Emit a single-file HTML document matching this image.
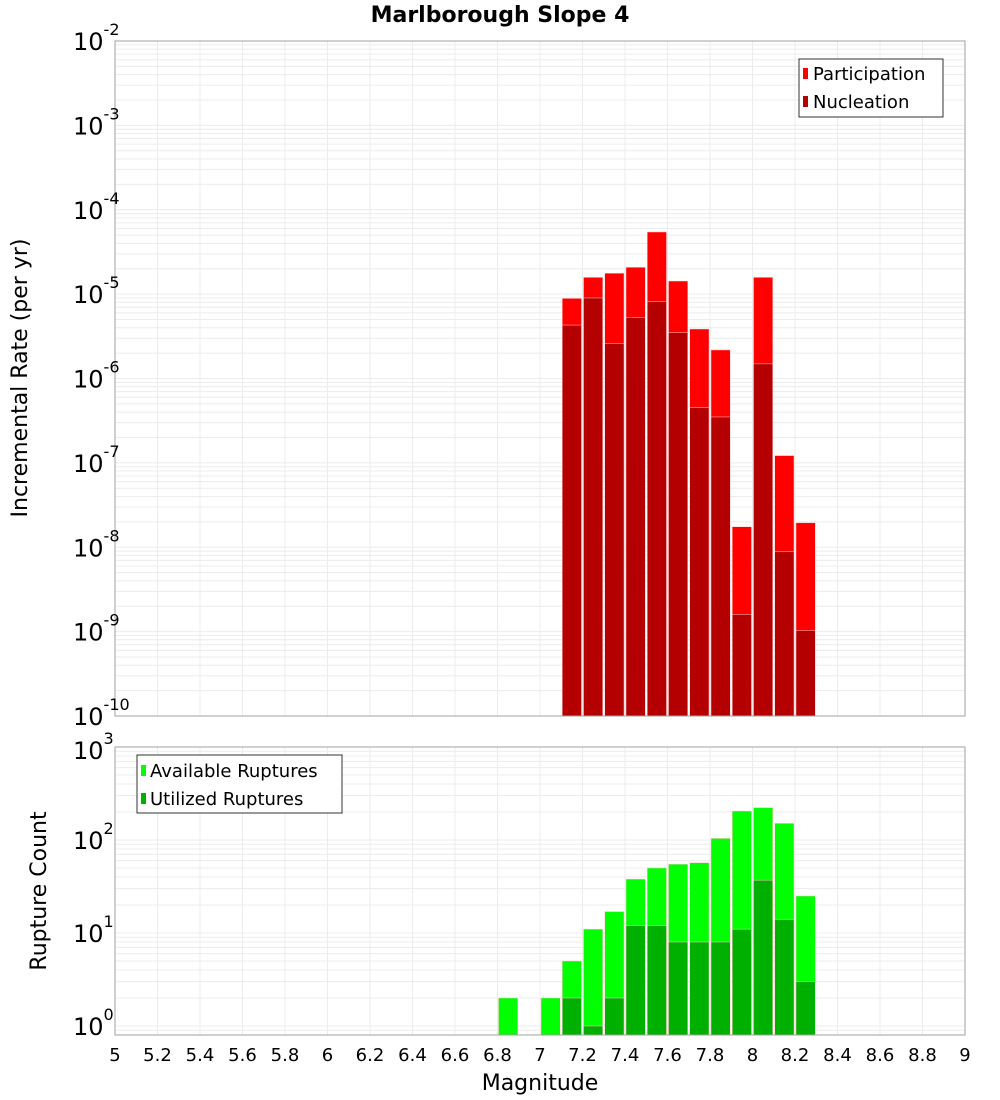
<!DOCTYPE html>
<html><head><meta charset="utf-8"><style>
body{margin:0;background:#fff}
svg{display:block;font-family:"DejaVu Sans","Liberation Sans",sans-serif}
</style></head><body>
<svg id="c" width="1000" height="1100" viewBox="0 0 1000 1100"></svg>
<script>
const mags=[7.1,7.2,7.3,7.4,7.5,7.6,7.7,7.8,7.9,8.0,8.1,8.2];
const participation=[8.9e-6,1.58e-5,1.77e-5,2.08e-5,5.45e-5,1.43e-5,3.86e-6,2.18e-6,1.75e-8,1.58e-5,1.22e-7,1.95e-8];
const nucleation=[4.3e-6,9.0e-6,2.6e-6,5.3e-6,8.2e-6,3.5e-6,4.5e-7,3.5e-7,1.6e-9,1.49e-6,8.9e-9,1.03e-9];
const countMags=[6.8,7.0,7.1,7.2,7.3,7.4,7.5,7.6,7.7,7.8,7.9,8.0,8.1,8.2];
const available=[2,2,5,11,17,38,50,55,57,104,205,223,151,25];
const utilized=[0,0,2,1,2,12,12,8,8,8,11,37,14,3];
const xTicks=[5,5.2,5.4,5.6,5.8,6,6.2,6.4,6.6,6.8,7,7.2,7.4,7.6,7.8,8,8.2,8.4,8.6,8.8,9];
const topExps=[-10,-9,-8,-7,-6,-5,-4,-3,-2];
const botExps=[0,1,2,3];

const NS="http://www.w3.org/2000/svg",svg=document.getElementById('c');
function el(t,a,p){const e=document.createElementNS(NS,t);for(const k in a)e.setAttribute(k,a[k]);(p||svg).appendChild(e);return e;}
const L=115,R=965;
const X=m=>L+(m-5)*(R-L)/4;
const T0=41,T1=716,yTop=v=>T1-(Math.log10(v)+10)*(T1-T0)/8;
const B0=747,B1=1035,yBot=v=>1026-93*Math.log10(v);

function grid(y0,y1,yf,e0,e1){
  const g=el('g',{});
  
  
  for(let e=e0;e<e1;e++)for(let k=1;k<10;k++){const y=yf(k*Math.pow(10,e));if(y<y0||y>y1)continue;
    el('line',{x1:L,x2:R,y1:y,y2:y,stroke:'#ececec','stroke-width':1},g);}
  xTicks.forEach(t=>el('line',{x1:X(t),x2:X(t),y1:y0,y2:y1,stroke:'#ececec','stroke-width':1},g));
}
grid(T0,T1,yTop,-10,-2);
grid(B0,B1,yBot,-1,3);

function bars(ms,vals,yf,color,name,bottom){
  const g=el('g',{});
  
  
  ms.forEach((m,i)=>{if(!(vals[i]>0))return;const y=Math.max(yf(vals[i]),0);
    const r=el('rect',{x:X(m)+1,y:y,width:X(m+0.1)-X(m)-2,height:bottom-y,fill:color,stroke:'#ffcccc','stroke-width':0.5},g);
    
    });
}
bars(mags,participation,yTop,'#ff0000','participation-series',T1);
bars(mags,nucleation,yTop,'#b40000','nucleation-series',T1);
bars(countMags,available,yBot,'#00ff00','available-ruptures-series',B1);
bars(countMags,utilized,yBot,'#00b000','utilized-ruptures-series',B1);

el('rect',{x:L,y:T0,width:R-L,height:T1-T0,fill:'none',stroke:'#a0a0a0'});
el('rect',{x:L,y:B0,width:R-L,height:B1-B0,fill:'none',stroke:'#a0a0a0'});

function ylab(e,y,name){const t=el('text',{x:73,y:y+9,'font-size':24,fill:'#000'});
  
  t.textContent='10';const s=el('tspan',{dy:-15,'font-size':16},t);s.textContent=String(e);}
topExps.forEach(e=>ylab(e,yTop(Math.pow(10,e)),'y-tick-label'));
botExps.forEach(e=>ylab(e,e==3?B0+3:yBot(Math.pow(10,e)),'y-tick-label'));
xTicks.forEach(t=>{const tx=el('text',{x:X(t),y:1061,'font-size':18,'text-anchor':'middle'});
  
  tx.textContent=String(t);});
</script>
<svg style="position:absolute;left:0;top:0" width="1000" height="1100" font-family="DejaVu Sans, Liberation Sans, sans-serif">
<text x="500" y="22" font-size="22" font-weight="bold" text-anchor="middle">Marlborough Slope 4</text>
<text x="540" y="1090" font-size="22" text-anchor="middle">Magnitude</text>
<text transform="translate(27,378) rotate(-90)" font-size="22" text-anchor="middle">Incremental Rate (per yr)</text>
<text transform="translate(46,891) rotate(-90)" font-size="22" text-anchor="middle">Rupture Count</text>
<g>
<rect x="799" y="59" width="144" height="58" fill="#fff" stroke="#333"/>
<rect x="803" y="68" width="5" height="11" fill="#ff0000"/>
<text x="813" y="80" font-size="18">Participation</text>
<rect x="803" y="96" width="5" height="11" fill="#b40000"/>
<text x="813" y="108" font-size="18">Nucleation</text>
</g>
<g>
<rect x="137" y="755" width="205" height="58" fill="#fff" stroke="#333"/>
<rect x="141" y="765" width="5" height="11" fill="#00ff00"/>
<text x="150" y="777" font-size="18">Available Ruptures</text>
<rect x="141" y="793" width="5" height="11" fill="#00b000"/>
<text x="150" y="805" font-size="18">Utilized Ruptures</text>
</g>
</svg>
</body></html>
